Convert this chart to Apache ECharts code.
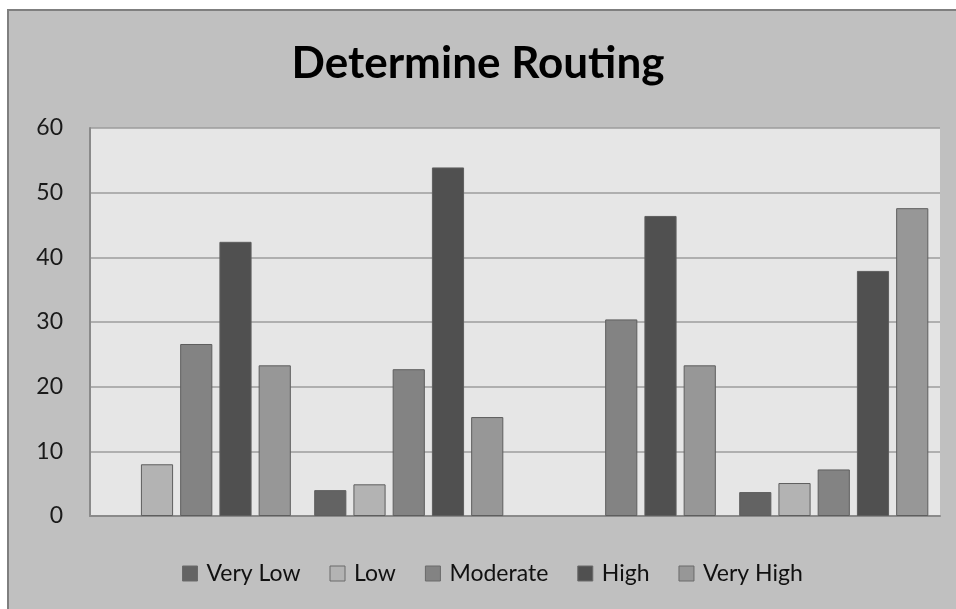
<!DOCTYPE html>
<html>
<head>
<meta charset="utf-8">
<title>Determine Routing</title>
<script src="https://cdn.jsdelivr.net/npm/echarts@6/dist/echarts.min.js"></script>
<style>
  html, body { margin: 0; padding: 0; background: #ffffff; }
  #chart { width: 956px; height: 609px; }
</style>
</head>
<body>
<div id="chart"></div>
<script>
// Four response groups, five rating levels each (percent)
const groups = ['Group 1', 'Group 2', 'Group 3', 'Group 4'];
const veryLow  = [0,    4.0,  0,    3.7];
const low      = [8.0,  4.9,  0,    5.1];
const moderate = [26.6, 22.7, 30.4, 7.2];
const high     = [42.4, 53.9, 46.4, 37.9];
const veryHigh = [23.3, 15.3, 23.3, 47.6];
const yTicks = [0, 10, 20, 30, 40, 50, 60];

const seriesDefs = [
  { name: 'Very Low',  data: veryLow,  color: '#636363' },
  { name: 'Low',       data: low,      color: '#b3b3b3' },
  { name: 'Moderate',  data: moderate, color: '#838383' },
  { name: 'High',      data: high,     color: '#505050' },
  { name: 'Very High', data: veryHigh, color: '#979797' }
];

const FONT = 'Lato, "Open Sans", sans-serif';
const chart = echarts.init(document.getElementById('chart'), null, { renderer: 'canvas' });

chart.setOption({
  backgroundColor: '#ffffff',
  animation: false,
  textStyle: { fontFamily: FONT },
  graphic: [{
    type: 'rect',
    z: -10,
    shape: { x: 8, y: 10, width: 960, height: 610 },
    style: { fill: '#c0c0c0', stroke: '#7f7f7f', lineWidth: 2 }
  }],
  title: {
    text: 'Determine Routing',
    left: 'center',
    top: 37,
    textStyle: { fontFamily: FONT, fontSize: 44, fontWeight: 'bold', color: '#000000' }
  },
  legend: {
    top: 557,
    left: 177,
    icon: 'rect',
    itemWidth: 15,
    itemHeight: 15,
    itemGap: 29,
    textStyle: { fontFamily: FONT, fontSize: 23, color: '#111111', padding: [0, 0, 0, 4] },
    data: seriesDefs.map(s => ({
      name: s.name,
      itemStyle: { color: s.color, borderColor: '#6a6a6a', borderWidth: 1 }
    }))
  },
  grid: {
    left: 90, right: 16, top: 128, bottom: 93,
    show: true,
    backgroundColor: '#e6e6e6',
    borderWidth: 0
  },
  xAxis: {
    type: 'category',
    data: groups,
    axisLine: { show: true, lineStyle: { color: '#8a8a8a', width: 2 } },
    axisTick: { show: false },
    axisLabel: { show: false }
  },
  yAxis: {
    type: 'value',
    min: yTicks[0],
    max: yTicks[yTicks.length - 1],
    interval: 10,
    axisLine: { show: true, lineStyle: { color: '#8a8a8a', width: 2 } },
    axisTick: { show: false },
    splitLine: { lineStyle: { color: '#9c9c9c', width: 1.5 } },
    axisLabel: {
      margin: 27,
      fontFamily: FONT,
      fontSize: 23,
      color: '#1a1a1a',
      formatter: v => (yTicks.includes(v) ? String(v) : '')
    }
  },
  series: seriesDefs.map(s => ({
    name: s.name,
    type: 'bar',
    // empty (zero) bars get no outline so nothing shows on the baseline
    data: s.data.map(v => (v === 0 ? { value: 0, itemStyle: { borderWidth: 0 } } : v)),
    barGap: '22%',
    barCategoryGap: '11%',
    itemStyle: { color: s.color, borderColor: '#5e5e5e', borderWidth: 1 }
  }))
});
</script>
</body>
</html>
